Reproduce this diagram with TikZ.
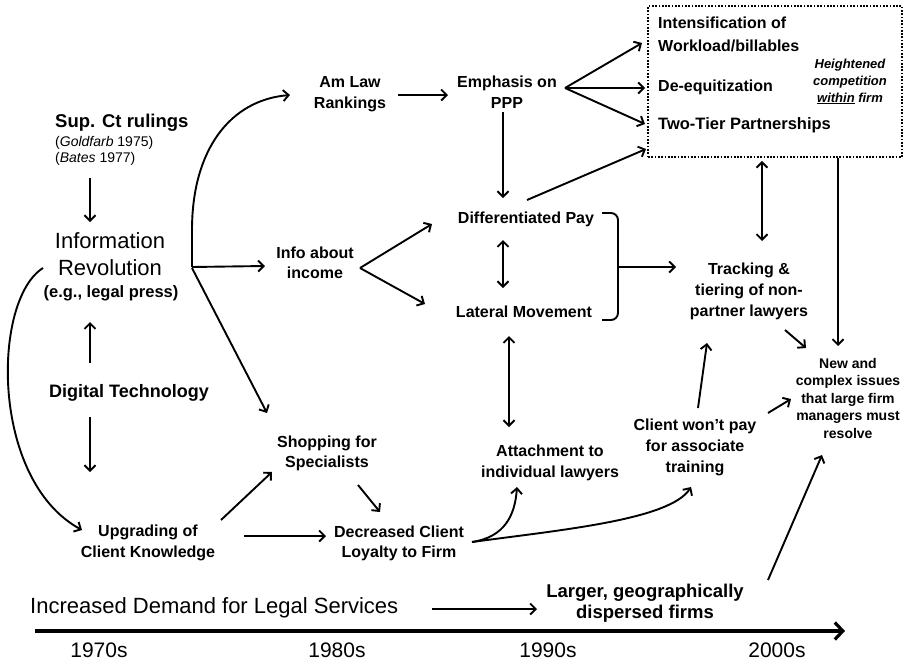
\documentclass[tikz,border=0pt]{standalone}
\usepackage{fontspec}
\setmainfont{Liberation Sans}
\usetikzlibrary{arrows.meta,calc}
\newcommand\myfs[2]{\fontsize{#1}{#2}\selectfont}
\newcommand\mlc[1]{\begin{tabular}[t]{@{}c@{}}#1\end{tabular}}
\newcommand\mll[1]{\begin{tabular}[t]{@{}l@{}}#1\end{tabular}}
\begin{document}
\begin{tikzpicture}[x=1pt,y=-1pt,
  lbl/.style={inner sep=0pt, anchor=base, font=\bfseries\myfs{16}{21}},
  arr/.style={line width=1.9pt, -{Straight Barb[length=5.5pt,width=11pt]}},
  darr/.style={line width=1.9pt, {Straight Barb[length=5.5pt,width=11pt]}-{Straight Barb[length=5.5pt,width=11pt]}},
  yr/.style={inner sep=0pt, anchor=base, font=\myfs{21}{24}}]
\useasboundingbox (0,0) rectangle (906,662);
\fill[white] (0,0) rectangle (906,662);
% nodes
\node[lbl, anchor=base west, font=\bfseries\myfs{18.5}{21}] (supct) at (55,127) {Sup. Ct rulings};
\node[lbl, anchor=base west, font=\myfs{14}{16}] (cases) at (55,146) {\mll{(\textit{Goldfarb} 1975)\\(\textit{Bates} 1977)}};
\node[lbl, font=\myfs{22}{27}] (inforev) at (110,248) {\mlc{Information\\Revolution}};
\node[lbl, font=\bfseries\myfs{16.5}{20}] (egpress) at (111,297) {(e.g., legal press)};
\node[lbl, font=\bfseries\myfs{18}{21}] (digital) at (129,397) {Digital Technology};
\node[lbl] (upgrade) at (148,536) {\mlc{Upgrading of\\Client Knowledge}};
\node[lbl] (amlaw) at (350,87) {\mlc{Am Law\\Rankings}};
\node[lbl] (emph) at (507,87) {\mlc{Emphasis on\\PPP}};
\node[lbl, font=\bfseries\myfs{16}{20}] (infoinc) at (315,258) {\mlc{Info about\\income}};
\node[lbl] (diffpay) at (526,223) {Differentiated Pay};
\node[lbl] (lateral) at (524,317) {Lateral Movement};
\node[lbl, font=\bfseries\myfs{16}{20}] (shopping) at (327,447) {\mlc{Shopping for\\Specialists}};
\node[lbl, font=\bfseries\myfs{16}{20}] (decreased) at (399,537) {\mlc{Decreased Client\\Loyalty to Firm}};
\node[lbl] (attach) at (550,456) {\mlc{Attachment to\\individual lawyers}};
\node[lbl] (clientwont) at (695,430) {\mlc{Client won't pay\\for associate\\training}};
\node[lbl] (tracking) at (749,274) {\mlc{Tracking \&\\tiering of non-\\partner lawyers}};
\node[lbl, font=\bfseries\myfs{14}{17.5}] (newissues) at (848,368) {\mlc{New and\\complex issues\\that large firm\\managers must\\resolve}};
\node[lbl, font=\bfseries\myfs{18.5}{21}] (larger) at (645,597) {\mlc{Larger, geographically\\dispersed firms}};
\node[lbl, anchor=base west, font=\myfs{22}{24}] (demand) at (30,613) {Increased Demand for Legal Services};
% box
\node[draw, line width=1.7pt, dash pattern=on 1.7pt off 1.6pt, minimum width=254pt, minimum height=151pt, inner sep=0pt] (box) at (775,81.5) {};
\node[lbl, anchor=base west, font=\bfseries\myfs{16}{23}] (intens) at (658,28) {\mll{Intensification of\\Workload/billables}};
\node[lbl, anchor=base west] (deeq) at (658,91) {De-equitization};
\node[lbl, anchor=base west, font=\bfseries\myfs{16.5}{20}] (twotier) at (658,129) {Two-Tier Partnerships};
\node[lbl, font=\bfseries\itshape\myfs{13}{17}] (heightened) at (850,68) {\mlc{Heightened\\competition\\\underline{within} firm}};
% years
\node[yr] (y70) at (99,657) {1970s};
\node[yr] (y80) at (337,657) {1980s};
\node[yr] (y90) at (548,657) {1990s};
\node[yr] (y00) at (777,657) {2000s};
% hubs
\coordinate (hub) at ($(inforev.base)+(82,19)$);
\coordinate (emphhub) at ($(emph.base)+(58,1)$);
\coordinate (infohub) at ($(infoinc.base)+(45,10)$);
\coordinate (dechub) at ($(decreased.base)+(73,5)$);
\coordinate (brtop) at ($(diffpay.base)+(76,-10)$);
\coordinate (brbot) at ($(lateral.base)+(78,3)$);
\coordinate (tl0) at (35,631);
\coordinate (tl1) at (845,631);
% connectors
\draw[arr] ($(supct.base west)+(35,51)$) -- ($(inforev.base)+(-20,-26)$);
\draw[arr] ($(digital.base)+(-39,-34)$) -- ($(egpress.base)+(-21,25)$);
\draw[arr] ($(digital.base)+(-39,20)$) -- ($(upgrade.base)+(-58,-64)$);
\draw[arr] ($(inforev.base)+(-67,20)$) .. controls (-8,300) and (-10,480) .. ($(upgrade.base)+(-66,-6)$);
\draw[arr] (hub) -- ($(hub)+(0,-37)$) .. controls ($(hub)+(0,-117)$) and ($(amlaw.base)+(-120,13)$) .. ($(amlaw.base)+(-60,8)$);
\draw[arr] (hub) -- ($(infoinc.base)+(-50,8)$);
\draw[arr] ($(hub)+(0,1)$) -- ($(shopping.base)+(-60,-34)$);
\draw[arr] ($(amlaw.base)+(48,8)$) -- ($(emph.base)+(-59,8)$);
\draw[arr] ($(emph.base)+(-4,25)$) -- ($(diffpay.base)+(-23,-25)$);
\draw[arr] (emphhub) -- ($(intens.base west)+(-16,15)$);
\draw[arr] (emphhub) -- ($(deeq.base west)+(-13,-3)$);
\draw[arr] (emphhub) -- ($(twotier.base west)+(-13,-5)$);
\draw[arr] ($(diffpay.base)+(1,-23)$) -- ($(twotier.base west)+(-12,20)$);
\draw[arr] (infohub) -- ($(diffpay.base)+(-94,1)$);
\draw[arr] (infohub) -- ($(lateral.base)+(-99,-13)$);
\draw[darr] ($(diffpay.base)+(-23,17)$) -- ($(lateral.base)+(-21,-29)$);
\draw[line width=1.9pt, rounded corners=7pt] (brtop) -- ($(brtop)+(16,0)$) -- ($(brbot)+(16,0)$) -- (brbot);
\draw[arr] ($(brtop)+(16,54)$) -- ($(tracking.base)+(-73,-7)$);
\draw[darr] ($(lateral.base)+(-15,19)$) -- ($(attach.base)+(-41,-29)$);
\draw[arr] ($(upgrade.base)+(73,-16)$) -- ($(shopping.base)+(-55,25)$);
\draw[arr] ($(shopping.base)+(31,38)$) -- ($(decreased.base)+(-19,-25)$);
\draw[arr] ($(upgrade.base)+(96,0)$) -- ($(decreased.base)+(-73,-1)$);
\draw[arr] (dechub) .. controls ($(dechub)+(33,-5)$) and ($(attach.base)+(-35,59)$) .. ($(attach.base)+(-33,31)$);
\draw[arr] (dechub) .. controls ($(dechub)+(88,-12)$) and ($(clientwont.base)+(-25,90)$) .. ($(clientwont.base)+(-4,57)$);
\draw[arr] ($(clientwont.base)+(3,-22)$) -- ($(tracking.base)+(-42,69)$);
\draw[arr] ($(clientwont.base)+(73,-17)$) -- ($(newissues.base)+(-57,31)$);
\draw[arr] ($(tracking.base)+(36,56)$) -- ($(newissues.base)+(-42,-20)$);
\draw[darr] ($(box.south)+(-13,3)$) -- ($(tracking.base)+(13,-33)$);
\draw[arr] ($(box.south)+(63,0)$) -- ($(newissues.base)+(-10,-22)$);
\draw[arr] ($(larger.base)+(123,-17)$) -- ($(newissues.base)+(-26,87)$);
\draw[arr] ($(demand.base west)+(402,-4)$) -- ($(larger.base)+(-108,12)$);
\draw[line width=3.2pt, -{Straight Barb[length=8pt,width=17pt]}] (tl0) -- (tl1);
\end{tikzpicture}
\end{document}
